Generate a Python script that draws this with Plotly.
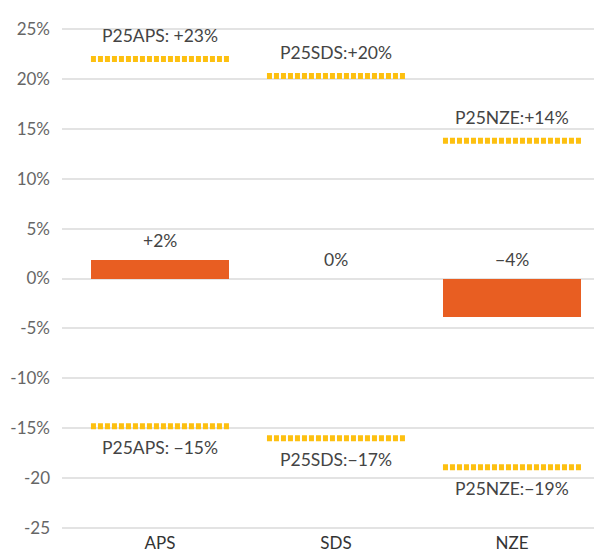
import plotly.graph_objects as go

categories = ["APS", "SDS", "NZE"]
change = [1.9, 0.0, -3.9]
change_labels = ["+2%", "0%", "\u22124%"]
p25_high = [22.0, 20.3, 13.8]
p25_low = [-14.8, -16.0, -18.9]
high_labels = ["P25APS: +23%", "P25SDS:+20%", "P25NZE:+14%"]
low_labels = ["P25APS: \u221215%", "P25SDS:\u221217%", "P25NZE:\u221219%"]
y_tickvals = [25, 20, 15, 10, 5, 0, -5, -10, -15, -20, -25]
y_ticktext = ["25%", "20%", "15%", "10%", "5%", "0%", "-5%", "-10%", "-15%", "-20", "-25"]

BAR_W = 0.785
FONT = "Lato, Open Sans, sans-serif"
ORANGE = "#E85E22"
YELLOW = "#FDC010"

xs = list(range(len(categories)))
fig = go.Figure()
fig.add_trace(go.Bar(x=xs, y=change, width=BAR_W, marker=dict(color=ORANGE, line=dict(width=0)),
                     showlegend=False, hoverinfo="skip"))

for i, (h, l) in enumerate(zip(p25_high, p25_low)):
    for v in (h, l):
        fig.add_trace(go.Scatter(x=[i - BAR_W / 2, i + BAR_W / 2], y=[v, v], mode="lines",
                                 line=dict(color=YELLOW, width=6, dash="5px,2px"),
                                 showlegend=False, hoverinfo="skip"))

annotations = []
for i in xs:
    annotations.append(dict(x=i, y=p25_high[i], text=high_labels[i], showarrow=False,
                            yanchor="bottom", yshift=11, font=dict(size=17.5, color="#444", family=FONT)))
    annotations.append(dict(x=i, y=p25_low[i], text=low_labels[i], showarrow=False,
                            yanchor="top", yshift=-9, font=dict(size=17.5, color="#444", family=FONT)))
    annotations.append(dict(x=i, y=max(change[i], 0), text=change_labels[i], showarrow=False,
                            yanchor="bottom", yshift=7, font=dict(size=17.5, color="#444", family=FONT)))

fig.update_layout(
    width=594, height=548,
    margin=dict(l=54, r=0, t=18, b=25),
    paper_bgcolor="white", plot_bgcolor="white",
    font=dict(family=FONT, color="#666", size=16),
    annotations=annotations,
    bargap=0,
)
fig.update_xaxes(range=[-0.557, 2.511], tickvals=xs, ticktext=categories, showgrid=False,
                 zeroline=False, showline=False, ticks="", tickfont=dict(size=17, color="#333"))
fig.update_yaxes(range=[-25.3, 25.3], tickvals=y_tickvals, ticktext=y_ticktext, showgrid=True,
                 gridcolor="#e3e3e3", gridwidth=1.5, zeroline=True, zerolinecolor="#e3e3e3",
                 zerolinewidth=1.5, showline=False, ticks="", ticklabelstandoff=11,
                 tickfont=dict(size=17, color="#666"))

fig.write_html("out.html")
